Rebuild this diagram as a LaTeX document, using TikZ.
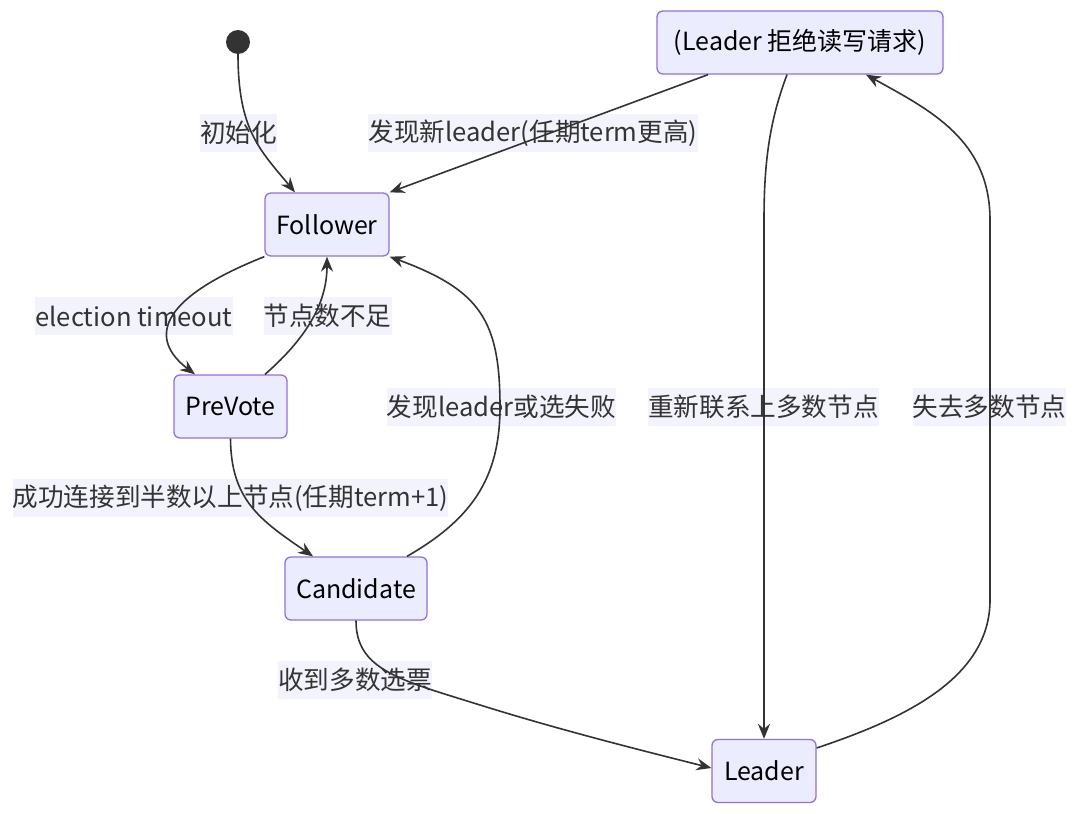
\documentclass[tikz,border=0pt]{standalone}
\usepackage{fontspec}
\setmainfont{Noto Sans CJK SC}
\usetikzlibrary{arrows.meta}
\definecolor{nodefill}{HTML}{ECECFF}
\definecolor{nodeline}{HTML}{9370DB}
\definecolor{edgecol}{HTML}{333333}
\definecolor{lblfill}{HTML}{F3F3FD}
\begin{document}
\begin{tikzpicture}[x=1pt,y=-1pt,
  state/.style={draw=nodeline,fill=nodefill,line width=1.3pt,rounded corners=6pt,
    minimum height=63pt,inner xsep=0pt,font=\fontsize{25}{28}\selectfont,text=black},
  lbl/.style={fill=lblfill,inner xsep=0pt,inner ysep=0pt,minimum height=38pt,
    font=\fontsize{25.6}{28}\selectfont,text=edgecol},
  edge/.style={draw=edgecol,line width=1.6pt,-{Stealth[length=15pt,width=12pt,inset=5pt]}}]
\useasboundingbox (0,0) rectangle (1080,814);
\fill[white] (0,0) rectangle (1080,814);
% states
\node[circle,fill=edgecol,minimum size=24pt,inner sep=0pt] (start) at (238,42) {};
\node[state,minimum width=286pt] (rej) at (800,42.5) {(Leader 拒绝读写请求)};
\node[state,minimum width=124pt] (fol) at (327,224.5) {Follower};
\node[state,minimum width=113pt] (pre) at (230.5,406.5) {PreVote};
\node[state,minimum width=142pt] (can) at (356,588.5) {Candidate};
\node[state,minimum width=104pt] (lea) at (764,771) {Leader};
% labels
\node[lbl] (l1) at (238.5,133) {初始化};
\node[lbl] (l2) at (533,133) {发现新leader(任期term更高)};
\node[lbl] (l3) at (134,316) {election timeout};
\node[lbl] (l4) at (327.5,316) {节点数不足};
\node[lbl] (l5) at (230.5,498) {成功连接到半数以上节点(任期term+1)};
\node[lbl] (l6) at (501.5,407) {发现leader或选失败};
\node[lbl] (l7) at (355,680) {收到多数选票};
\node[lbl] (l8) at (763.5,407) {重新联系上多数节点};
\node[lbl] (l9) at (989.5,407) {失去多数节点};
% edges
\draw[edge] (start.south) .. controls (238,130) and (260,150) .. (fol.north west -| 295,0);
\draw[edge] (rej.south west -| 708,0) -- (fol.north east);
\draw[edge] (fol.south west) .. controls (155,300) and (150,340) .. (pre.north west -| 195,0);
\draw[edge] (pre.north east -| 265,0) .. controls (310,335) and (327,300) .. (fol.south);
\draw[edge] (pre.south) .. controls (231,500) and (260,520) .. (can.north west -| 313,0);
\draw[edge] (can.north east -| 407,0) .. controls (470,520) and (500,480) .. (500,407)
   .. controls (500,320) and (480,290) .. (fol.south east);
\draw[edge] (can.south) .. controls (356,670) and (400,680) .. (480,705)
   .. controls (560,730) and (640,750) .. (lea.west |- 0,768);
\draw[edge] (rej.south -| 787,0) .. controls (770,120) and (764,160) .. (764,220) -- (lea.north);
\draw[edge] (lea.north east |- 0,748) .. controls (900,720) and (990,680) .. (990,600)
   -- (990,220) .. controls (990,140) and (930,110) .. (rej.south -| 866,0);
\end{tikzpicture}
\end{document}
